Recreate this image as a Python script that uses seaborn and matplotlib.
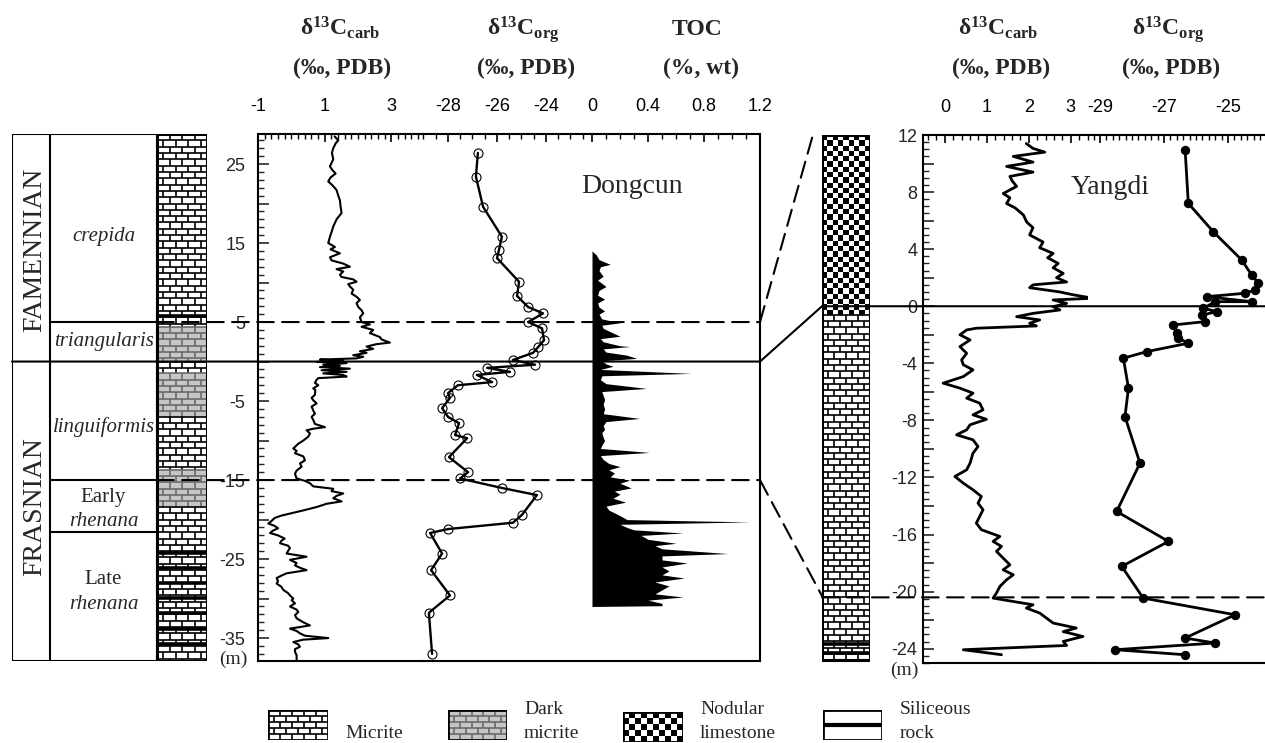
import numpy as np
import matplotlib
matplotlib.use("Agg")
import matplotlib.pyplot as plt
import seaborn as sns
from matplotlib.patches import Rectangle, ConnectionPatch
from matplotlib.collections import LineCollection
from matplotlib.colors import ListedColormap
from matplotlib.transforms import blended_transform_factory
from matplotlib.ticker import FixedLocator, MultipleLocator, FuncFormatter

# ---------------------------------------------------------------- data
# Dongcun section (depth in m, 0 = Frasnian/Famennian boundary)
dc_carb_depth = [28.5, 28.0, 27.6, 27.0, 26.4, 25.6, 24.7, 24.2, 23.8, 23.3, 22.8, 22.2, 21.7, 21.0, 20.4,
                 19.6, 18.8, 18.0, 17.1, 16.4, 15.8, 15.0, 14.5, 14.2, 13.7, 13.2, 12.8, 12.4, 12.0, 11.7,
                 11.4, 11.0, 10.7, 10.4, 10.1, 9.8, 9.5, 9.1, 8.6, 8.2, 7.8, 7.4, 6.9, 6.5, 6.1, 5.6, 5.0,
                 4.7, 4.4, 4.0, 3.6, 3.1, 2.8, 2.4, 2.2, 1.9, 1.6, 1.3, 1.1, 0.8, 0.6, 0.4, 0.25, 0.1,
                 -0.05, -0.2, -0.4, -0.55, -0.7, -0.9, -1.1, -1.3, -1.5, -1.7, -1.9, -2.1, -2.3, -2.7, -3.0,
                 -3.4, -3.6, -4.2, -4.6, -4.9, -5.3, -5.7, -6.2, -6.6, -7.0, -7.4, -7.9, -8.3, -8.5, -8.7,
                 -9.1, -9.5, -10.0, -10.4, -11.0, -11.3, -11.6, -12.0, -12.5, -12.9, -13.3, -13.8, -14.2,
                 -14.8, -15.1, -15.4, -15.8, -16.1, -16.4, -16.7, -17.0, -17.3, -17.7, -18.0, -18.4, -18.8,
                 -19.2, -19.5, -19.8, -20.2, -20.5, -20.8, -21.1, -21.4, -21.7, -22.0, -22.4, -22.7, -23.0,
                 -23.3, -23.6, -24.0, -24.3, -24.7, -25.1, -25.5, -25.8, -26.1, -26.4, -26.8, -27.1, -27.4,
                 -27.8, -28.1, -28.5, -28.9, -29.3, -29.6, -30.0, -30.2, -30.6, -31.0, -31.4, -31.7, -32.1,
                 -32.5, -33.0, -33.4, -33.8, -34.1, -34.4, -34.7, -35.0, -35.2, -35.5, -35.8, -36.1, -36.4,
                 -36.7, -37.2, -37.8]
dc_carb_value = [1.30, 1.41, 1.33, 1.26, 1.22, 1.26, 1.16, 1.24, 1.33, 1.18, 1.11, 1.26, 1.36, 1.41, 1.46,
                 1.48, 1.51, 1.36, 1.26, 1.21, 1.16, 1.11, 1.31, 1.18, 1.46, 1.16, 1.21, 1.56, 1.76, 1.36,
                 1.56, 1.46, 1.51, 1.86, 1.96, 1.71, 1.76, 1.86, 1.81, 1.96, 2.06, 1.96, 2.01, 2.11, 2.16,
                 2.06, 2.11, 2.36, 2.11, 2.46, 2.36, 2.66, 2.71, 2.96, 2.56, 2.26, 2.46, 2.06, 2.26, 1.86,
                 2.16, 1.96, 0.86, 1.56, 0.76, 1.66, 0.96, 1.46, 0.86, 1.76, 0.91, 1.66, 0.96, 1.56, 1.66,
                 0.81, 0.76, 0.71, 0.81, 0.66, 0.72, 0.71, 0.61, 0.66, 0.76, 0.61, 0.66, 0.71, 0.61, 0.66,
                 0.71, 1.01, 0.66, 0.46, 0.56, 0.51, 0.36, 0.21, 0.06, 0.16, 0.11, 0.36, 0.41, 0.26, 0.31,
                 0.16, 0.11, 0.16, 0.41, 0.56, 0.66, 1.26, 1.21, 1.56, 1.36, 1.26, 1.51, 1.06, 0.77, 0.40,
                 0.00, -0.30, -0.50, -0.60, -0.69, -0.50, -0.40, -0.55, -0.64, -0.40, -0.20, -0.30, -0.34,
                 -0.10, -0.04, -0.10, -0.14, 0.46, -0.04, 0.16, 0.11, 0.26, 0.46, -0.14, -0.30, -0.44,
                 -0.40, -0.44, -0.30, -0.24, -0.10, -0.04, 0.06, 0.01, 0.11, -0.04, 0.16, 0.21, 0.11,
                 0.16, 0.36, 0.56, -0.04, 0.16, 0.26, 0.41, 1.11, 0.36, 0.06, 0.21, 0.26, 0.11, 0.11,
                 0.16, 0.16]

dc_org_depth = [26.4, 23.4, 19.6, 15.8, 14.1, 13.1, 10.1, 8.3, 6.9, 6.1, 5.0, 4.2, 2.7, 1.8, 1.1, 0.2,
                -0.4, -0.8, -1.3, -1.7, -2.6, -3.0, -4.0, -4.6, -5.9, -7.0, -7.8, -9.3, -9.7, -12.1,
                -14.0, -14.8, -16.0, -16.9, -19.4, -20.4, -21.2, -21.7, -24.3, -26.4, -29.6, -31.8, -37.0]
dc_org_value = [-26.78, -26.86, -26.57, -25.80, -25.92, -26.00, -25.10, -25.18, -24.73, -24.12, -24.73,
                -24.16, -24.08, -24.33, -24.53, -25.35, -24.45, -26.40, -25.47, -26.82, -26.20, -27.60,
                -28.00, -27.92, -28.24, -28.00, -27.55, -27.71, -27.22, -27.96, -27.18, -27.51, -25.80,
                -24.37, -24.98, -25.35, -28.00, -28.73, -28.24, -28.69, -27.92, -28.78, -28.65]

dc_toc_depth = [14.0, 13.5, 12.9, 12.3, 12.0, 11.5, 10.8, 10.3, 9.5, 9.0, 8.4, 7.9, 7.4, 6.9, 6.4, 6.0,
                5.4, 4.9, 4.6, 4.2, 3.7, 3.2, 2.9, 2.5, 2.0, 1.9, 1.6, 1.2, 0.8, 0.4, 0.1, -0.3, -0.6,
                -1.0, -1.5, -1.8, -2.3, -2.8, -3.4, -3.8, -4.3, -4.8, -5.4, -6.0, -6.6, -7.2, -7.6,
                -8.1, -8.6, -9.0, -9.6, -10.0, -10.6, -11.0, -11.5, -11.9, -12.4, -12.9, -13.3, -13.7,
                -14.1, -14.6, -15.0, -15.4, -16.0, -16.4, -16.8, -17.3, -17.8, -18.3, -18.8, -19.5,
                -20.0, -20.3, -20.6, -21.0, -21.3, -21.7, -22.0, -22.5, -23.0, -23.3, -23.7, -24.3,
                -24.6, -25.1, -25.5, -26.0, -26.5, -27.0, -27.4, -27.9, -28.4, -28.9, -29.4, -29.8,
                -30.2, -30.6, -30.9, -31.0]
dc_toc_value = [0.00, 0.03, 0.05, 0.13, 0.06, 0.05, 0.08, 0.04, 0.10, 0.05, 0.04, 0.09, 0.04, 0.05, 0.09,
                0.05, 0.07, 0.20, 0.07, 0.08, 0.14, 0.20, 0.06, 0.08, 0.20, 0.27, 0.08, 0.10, 0.25, 0.32,
                0.07, 0.10, 0.15, 0.06, 0.71, 0.07, 0.06, 0.10, 0.39, 0.07, 0.08, 0.09, 0.08, 0.09, 0.08,
                0.34, 0.10, 0.08, 0.09, 0.07, 0.08, 0.09, 0.07, 0.06, 0.41, 0.06, 0.08, 0.12, 0.20, 0.12,
                0.16, 0.13, 0.27, 0.20, 0.28, 0.16, 0.20, 0.15, 0.24, 0.10, 0.12, 0.20, 0.25, 1.13, 0.20,
                0.25, 0.30, 0.65, 0.35, 0.40, 0.60, 0.45, 0.50, 0.97, 0.50, 0.50, 0.68, 0.50, 0.55, 0.50,
                0.66, 0.45, 0.55, 0.50, 0.45, 0.65, 0.40, 0.50, 0.50, 0.00]

# Yangdi section
yd_carb_depth = [11.4, 11.06, 10.8, 10.5, 10.1, 9.8, 9.4, 9.1, 8.8, 8.4, 7.9, 7.6, 7.2, 6.9, 6.4, 5.9, 5.5,
                 5.0, 4.5, 4.1, 3.7, 3.4, 3.0, 2.7, 2.3, 2.0, 1.7, 1.5, 1.3, 1.0, 0.8, 0.56, 0.44, 0.2,
                 -0.03, -0.26, -0.5, -0.73, -0.96, -1.19, -1.38, -1.54, -1.66, -2.0, -2.36, -2.83, -3.3,
                 -3.76, -4.1, -4.46, -4.93, -5.39, -5.74, -6.09, -6.44, -6.79, -7.26, -7.61, -7.92, -8.31,
                 -8.66, -9.01, -9.36, -9.83, -10.3, -11.0, -11.46, -11.93, -12.4, -12.86, -13.33, -13.8,
                 -14.26, -14.73, -15.2, -15.66, -16.13, -16.48, -16.83, -17.18, -17.65, -18.12, -18.47,
                 -18.82, -19.17, -19.64, -20.1, -20.45, -20.69, -20.92, -21.15, -21.5, -21.85, -22.2,
                 -22.55, -22.8, -23.14, -23.49, -23.77, -24.07, -24.42]
yd_carb_value = [1.94, 2.10, 2.38, 1.63, 2.10, 1.47, 2.10, 1.55, 1.60, 1.71, 1.39, 1.55, 1.47, 1.67, 1.87,
                 1.95, 2.10, 2.02, 2.34, 2.26, 2.58, 2.45, 2.70, 2.58, 2.82, 2.66, 2.90, 2.10, 2.02, 2.74,
                 3.06, 3.53, 2.58, 2.90, 2.58, 2.74, 2.10, 1.71, 2.26, 2.02, 2.18, 0.75, 0.52, 0.36, 0.60,
                 0.36, 0.52, 0.40, 0.44, 0.67, 0.44, -0.04, 0.36, 0.67, 0.52, 0.83, 0.91, 0.67, 0.99,
                 0.60, 0.52, 0.28, 0.67, 0.79, 0.67, 0.60, 0.52, 0.24, 0.44, 0.67, 0.87, 0.79, 0.91, 0.83,
                 0.75, 0.87, 1.31, 1.15, 1.35, 1.23, 1.39, 1.55, 1.39, 1.63, 1.47, 1.31, 1.23, 1.15, 1.63,
                 2.10, 1.94, 2.26, 2.42, 2.58, 3.13, 2.82, 3.29, 2.82, 2.90, 0.44, 1.35]

yd_org_depth = [10.95, 7.21, 5.22, 3.24, 2.19, 1.61, 1.14, 0.91, 0.67, 0.32, 0.32, -0.14, -0.38, -0.61,
                -1.08, -1.31, -1.89, -2.24, -2.59, -3.18, -3.64, -5.74, -7.73, -11.0, -14.38, -16.48,
                -18.23, -20.45, -21.62, -23.25, -23.6, -24.07, -24.42]
yd_org_value = [-26.34, -26.24, -25.46, -24.57, -24.26, -24.05, -24.16, -24.47, -25.67, -24.26, -25.40,
                -25.77, -25.35, -25.80, -25.72, -26.71, -26.60, -26.55, -26.24, -27.54, -28.27, -28.11,
                -28.22, -27.75, -28.48, -26.86, -28.32, -27.65, -24.78, -26.34, -25.41, -28.53, -26.34]

# stratigraphy
dc_zone_bounds = [5.0, 0.0, -15.0, -21.6]
dc_lith_top = [28.8, 4.4, 0.0, -1.5, -7.0, -13.7, -18.4]
dc_lith_bot = [4.4, 0.0, -1.5, -7.0, -13.7, -18.4, -37.9]
dc_lith_type = ['micrite', 'dark', 'micrite', 'dark', 'micrite', 'dark', 'micrite']
dc_siliceous = [5.8, -24.2, -26.1, -28.0, -29.9, -31.8, -33.8, -35.7]
yd_lith_top = [12.0, -0.6]
yd_lith_bot = [-0.6, -24.8]
yd_lith_type = ['nodular', 'micrite']
yd_siliceous = [-23.7, -24.3]

# ---------------------------------------------------------------- style
sns.set_style("white")
plt.rcParams['font.family'] = ['Liberation Sans', 'DejaVu Sans']
plt.rcParams['axes.unicode_minus'] = False
plt.rcParams['mathtext.fontset'] = 'custom'
plt.rcParams['mathtext.rm'] = 'Liberation Serif'
plt.rcParams['mathtext.bf'] = 'Liberation Serif:bold'
plt.rcParams['mathtext.it'] = 'Liberation Serif:italic'
SERIF = ['Liberation Serif', 'DejaVu Serif']

W, H = 1265, 743
fig = plt.figure(figsize=(W / 100, H / 100), dpi=100)
fig.patch.set_facecolor('white')

LW = 1.5


def px_axes(x0, x1, y0, y1):
    ax = fig.add_axes([x0 / W, 1 - y1 / H, (x1 - x0) / W, (y1 - y0) / H])
    ax.patch.set_alpha(0)
    return ax


def track(x0, x1, y0, y1, xlim, ylim, major, minor, fmt, left=False, right=False):
    ax = px_axes(x0, x1, y0, y1)
    ax.set_xlim(*xlim)
    ax.set_ylim(*ylim)
    for s, sp in ax.spines.items():
        sp.set_color('black')
        sp.set_linewidth(LW)
    ax.spines['left'].set_visible(left)
    ax.spines['right'].set_visible(right)
    ax.xaxis.tick_top()
    ax.xaxis.set_major_locator(FixedLocator(major))
    ax.xaxis.set_minor_locator(MultipleLocator(minor))
    ax.xaxis.set_major_formatter(FuncFormatter(fmt))
    ax.tick_params(axis='x', which='major', direction='in', length=6, width=1.2, pad=14,
                   labelsize=13, colors='black')
    ax.tick_params(axis='x', which='minor', direction='in', length=3.5, width=1.0, colors='black')
    ax.tick_params(axis='y', which='both', left=False, right=False, labelleft=False)
    return ax


def brick_fill(ax, x0, x1, ytop, ybot, row_h, n, face, edge, lw, z=1):
    ax.add_patch(Rectangle((x0, ybot), x1 - x0, ytop - ybot, facecolor=face, edgecolor='none', zorder=z))
    bw = (x1 - x0) / n
    segs = [[(x0, ytop), (x1, ytop)]]
    y = ytop
    k = 0
    while y - ybot > 1e-6:
        yb = max(y - row_h, ybot)
        if yb > ybot + 1e-6:
            segs.append([(x0, yb), (x1, yb)])
        xv = x0 + (bw / 2 if k % 2 else bw)
        while xv < x1 - 1e-6:
            segs.append([(xv, yb), (xv, y)])
            xv += bw
        y = yb
        k += 1
    ax.add_collection(LineCollection(segs, colors=edge, linewidths=lw, zorder=z + 0.1))


def checker(ax, x0, x1, ytop, ybot, ncol, cell_h, z=1):
    nrow = max(1, int(round((ytop - ybot) / cell_h)))
    xe = np.linspace(x0, x1, ncol + 1)
    ye = np.linspace(ybot, ytop, nrow + 1)
    C = np.add.outer(np.arange(nrow), np.arange(ncol)) % 2
    ax.pcolormesh(xe, ye, C, cmap=ListedColormap(['white', 'black']), vmin=0, vmax=1,
                  shading='flat', zorder=z)


def fmt_int(v, p):
    return f'{v:g}'


# ---------------------------------------------------------------- Dongcun
D_TOP, D_BOT = 28.8, -37.9
DY0, DY1 = 134, 661

ax_strat = px_axes(12, 207, DY0, DY1)
ax_strat.set_xlim(0, 1)
ax_strat.set_ylim(D_BOT, D_TOP)
ax_strat.axis('off')
XS, XZ, XL = 0.195, 0.744, 1.0
for t, b, kind in zip(dc_lith_top, dc_lith_bot, dc_lith_type):
    if kind == 'micrite':
        brick_fill(ax_strat, XZ, XL, t, b, 0.8, 4, 'white', 'black', 1.2)
    else:
        brick_fill(ax_strat, XZ, XL, t, b, 0.8, 4, '#c6c6c6', '#6a6a6a', 1.2)
ax_strat.hlines(dc_siliceous, XZ, XL, colors='black', lw=2.6, zorder=3)
ax_strat.add_patch(Rectangle((XZ, D_BOT), XL - XZ, D_TOP - D_BOT, fill=False, edgecolor='black',
                             lw=2.2, zorder=4))
ax_strat.add_patch(Rectangle((0, D_BOT), XZ, D_TOP - D_BOT, fill=False, edgecolor='black', lw=LW, zorder=4))
ax_strat.vlines([XS], D_BOT, D_TOP, colors='black', lw=LW, zorder=4)
ax_strat.hlines([b for b in dc_zone_bounds if b != 0.0], XS, XZ, colors='black', lw=LW, zorder=4)

zone_txt = [(15.8, 'crepida', 'italic'), (2.5, 'triangularis', 'italic'), (-8.3, 'linguiformis', 'italic'),
            (-17.2, 'Early', 'normal'), (-20.3, 'rhenana', 'italic'), (-27.6, 'Late', 'normal'),
            (-30.8, 'rhenana', 'italic')]
for d, s, st in zone_txt:
    ax_strat.text((XS + XZ) / 2, d, s, ha='center', va='center', fontsize=15, style=st, family=SERIF)
ax_strat.text(0.118, 14.1, 'FAMENNIAN', rotation=90, ha='center', va='center', fontsize=20, family=SERIF)
ax_strat.text(0.118, -18.4, 'FRASNIAN', rotation=90, ha='center', va='center', fontsize=20, family=SERIF)

ax_dc = track(258, 423, DY0, DY1, (-1, -1 + 165 / 33.3), (D_BOT, D_TOP), [-1, 1, 3], 0.2, fmt_int, left=True)
ax_do = track(423, 592, DY0, DY1, (-29.02, -29.02 + 169 / 24.5), (D_BOT, D_TOP), [-28, -26, -24], 0.5, fmt_int)
ax_dt = track(592, 760, DY0, DY1, (0, 1.2), (D_BOT, D_TOP), [0, 0.4, 0.8, 1.2], 0.1, fmt_int, right=True)

ax_dc.yaxis.set_major_locator(FixedLocator(list(range(-35, 30, 5))))
ax_dc.yaxis.set_minor_locator(MultipleLocator(1))
ax_dc.yaxis.set_major_formatter(FuncFormatter(lambda v, p: f'{int(round(v))}' if int(round(v)) % 10 == 5 else ''))
ax_dc.tick_params(axis='y', which='major', left=True, labelleft=True, direction='in', length=8, width=1.2,
                  pad=9, labelsize=13)
ax_dc.tick_params(axis='y', which='minor', left=True, direction='in', length=4, width=1.0)

sns.lineplot(x=dc_carb_value, y=dc_carb_depth, sort=False, estimator=None, ax=ax_dc, color='black', lw=1.5)
sns.lineplot(x=dc_org_value, y=dc_org_depth, sort=False, estimator=None, ax=ax_do, color='black', lw=1.7,
             marker='o', markersize=6.5, markerfacecolor='none', markeredgecolor='black', markeredgewidth=0.8)
ax_dt.fill_betweenx(dc_toc_depth, 0, dc_toc_value, color='black', lw=0)
for a in (ax_dc, ax_do, ax_dt):
    a.set_xlabel('')
    a.set_ylabel('')
ax_dc.set_xlim(-1, -1 + 165 / 33.3)
ax_do.set_xlim(-29.02, -29.02 + 169 / 24.5)
ax_dt.set_xlim(0, 1.2)
for a in (ax_dc, ax_do, ax_dt):
    a.set_ylim(D_BOT, D_TOP)
ax_dt.text(0.286, 21.3, 'Dongcun', ha='center', va='baseline', fontsize=20, family=SERIF)

# ---------------------------------------------------------------- Yangdi
Y_TOP, Y_BOT = 12.0, -25.0
YY0, YY1 = 135, 663

ax_ycol = px_axes(822, 870, YY0, YY1)
ax_ycol.set_xlim(0, 1)
ax_ycol.set_ylim(Y_BOT, Y_TOP)
ax_ycol.axis('off')
for t, b, kind in zip(yd_lith_top, yd_lith_bot, yd_lith_type):
    if kind == 'nodular':
        checker(ax_ycol, 0, 1, t, b, 9, 0.37)
    else:
        brick_fill(ax_ycol, 0, 1, t, b, 0.44, 4, 'white', 'black', 1.2)
ax_ycol.hlines(yd_siliceous, 0, 1, colors='black', lw=2.6, zorder=3)
ax_ycol.add_patch(Rectangle((0, yd_lith_bot[-1]), 1, yd_lith_top[0] - yd_lith_bot[-1], fill=False,
                            edgecolor='black', lw=2.2, zorder=4))

ax_yc = track(923, 1088, YY0, YY1, (-0.52, 3.41), (Y_BOT, Y_TOP), [0, 1, 2, 3], 0.2, fmt_int, left=True)
ax_yo = track(1088, 1300, YY0, YY1, (-29.375, -22.75), (Y_BOT, Y_TOP), [-29, -27, -25], 0.2, fmt_int, right=True)
ax_yc.yaxis.set_major_locator(MultipleLocator(2))
ax_yc.yaxis.set_minor_locator(MultipleLocator(0.5))
ax_yc.yaxis.set_major_formatter(FuncFormatter(lambda v, p: f'{int(round(v))}' if int(round(v)) % 4 == 0 else ''))
ax_yc.tick_params(axis='y', which='major', left=True, labelleft=True, direction='in', length=8, width=1.2,
                  pad=4, labelsize=13)
ax_yc.tick_params(axis='y', which='minor', left=True, direction='in', length=4, width=1.0)

sns.lineplot(x=yd_carb_value, y=yd_carb_depth, sort=False, estimator=None, ax=ax_yc, color='black', lw=2.0)
sns.lineplot(x=yd_org_value, y=yd_org_depth, sort=False, estimator=None, ax=ax_yo, color='black', lw=2.0,
             marker='o', markersize=6, markerfacecolor='black', markeredgecolor='black')
for a in (ax_yc, ax_yo):
    a.set_xlabel('')
    a.set_ylabel('')
    a.set_ylim(Y_BOT, Y_TOP)
ax_yc.set_xlim(-0.52, 3.41)
ax_yo.set_xlim(-29.375, -22.75)
ax_yo.text(-28.69, 7.9, 'Yangdi', ha='center', va='baseline', fontsize=20, family=SERIF)


# ---------------------------------------------------------------- correlation lines
def bt(ax):
    return blended_transform_factory(ax.transAxes, ax.transData)


def link(axA, xa, ya, axB, xb, yb, ls='-'):
    cp = ConnectionPatch(xyA=(xa, ya), coordsA=bt(axA), xyB=(xb, yb), coordsB=bt(axB),
                         color='black', lw=LW, linestyle=ls, zorder=5)
    fig.add_artist(cp)


DASH = (0, (8, 4))
link(ax_strat, 0, 0.0, ax_dt, 1, 0.0)
link(ax_strat, XZ, 5.0, ax_dt, 1, 5.0, DASH)
link(ax_strat, XZ, -15.0, ax_dt, 1, -15.0, DASH)
link(ax_dt, 1, 5.0, ax_ycol, -0.19, 12.0, DASH)
link(ax_dt, 1, 0.0, ax_ycol, 0, 0.0)
link(ax_dt, 1, -15.0, ax_ycol, 0, -20.3, DASH)
link(ax_ycol, 0, 0.0, ax_yo, 1, 0.0)
link(ax_ycol, 0, -20.4, ax_yo, 1, -20.4, DASH)


# ---------------------------------------------------------------- titles and labels
def ftxt(x, y, s, **kw):
    fig.text(x / W, 1 - y / H, s, **kw)


carb_t = r'$\mathbf{δ^{13}C_{carb}}$'
org_t = r'$\mathbf{δ^{13}C_{org}}$'
unit_t = '(‰, PDB)'
for xc, s in [(340, carb_t), (523, org_t), (998, carb_t), (1168, org_t)]:
    ftxt(xc, 35, s, ha='center', va='baseline', fontsize=17)
for xc in (342, 526, 1001, 1171):
    ftxt(xc, 74, unit_t, ha='center', va='baseline', fontsize=17, fontweight='bold', family=SERIF)
ftxt(697, 35, 'TOC', ha='center', va='baseline', fontsize=17, fontweight='bold', family=SERIF)
ftxt(701, 74, '(%, wt)', ha='center', va='baseline', fontsize=17, fontweight='bold', family=SERIF)
ftxt(233, 659, '(m)', ha='center', va='center', fontsize=14, family=SERIF)
ftxt(904, 670, '(m)', ha='center', va='center', fontsize=14, family=SERIF)

# ---------------------------------------------------------------- legend
def swatch(x0, x1, y0, y1):
    a = px_axes(x0, x1, y0, y1)
    a.set_xlim(0, 1)
    a.set_ylim(0, 1)
    a.axis('off')
    return a


s1 = swatch(268, 328, 710, 740)
brick_fill(s1, 0, 1, 1, 0, 0.2, 5, 'white', 'black', 1.2)
s1.add_patch(Rectangle((0, 0), 1, 1, fill=False, edgecolor='black', lw=2, zorder=4))
s2 = swatch(448, 507, 710, 740)
brick_fill(s2, 0, 1, 1, 0, 0.2, 5, '#c6c6c6', '#6a6a6a', 1.2)
s2.add_patch(Rectangle((0, 0), 1, 1, fill=False, edgecolor='black', lw=2, zorder=4))
s3 = swatch(623, 683, 712, 742)
checker(s3, 0, 1, 1, 0, 10, 0.2)
s3.add_patch(Rectangle((0, 0), 1, 1, fill=False, edgecolor='black', lw=2, zorder=4))
s4 = swatch(823, 882, 710, 740)
s4.add_patch(Rectangle((0, 0), 1, 1, facecolor='white', edgecolor='black', lw=2, zorder=4))
s4.hlines([0.5], 0, 1, colors='black', lw=3, zorder=5)

ftxt(345, 733, 'Micrite', ha='left', va='center', fontsize=14, family=SERIF)
ftxt(524, 709, 'Dark', ha='left', va='center', fontsize=14, family=SERIF)
ftxt(524, 734, 'micrite', ha='left', va='center', fontsize=14, family=SERIF)
ftxt(700, 709, 'Nodular', ha='left', va='center', fontsize=14, family=SERIF)
ftxt(700, 734, 'limestone', ha='left', va='center', fontsize=14, family=SERIF)
ftxt(900, 709, 'Siliceous', ha='left', va='center', fontsize=14, family=SERIF)
ftxt(900, 734, 'rock', ha='left', va='center', fontsize=14, family=SERIF)

fig.savefig('out.png', dpi=100, facecolor='white')
